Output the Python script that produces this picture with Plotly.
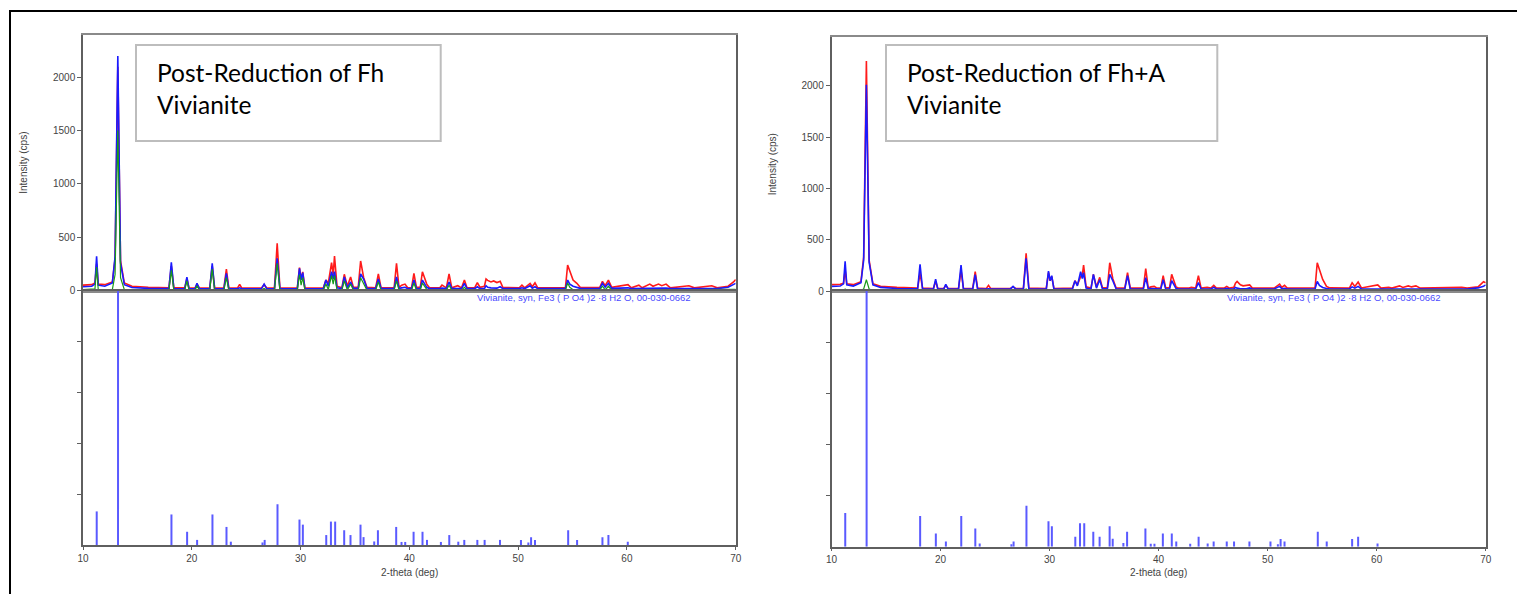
import plotly.graph_objects as go

W, H = 1517, 594

# Shared 2-theta grid (deg) for the measured patterns
two_theta = [
    10.0, 10.8, 11.1, 11.25, 11.4, 12.0, 12.7, 12.95, 13.2, 13.45,
    13.8, 14.5, 16.0, 17.9, 18.12, 18.35, 19.35, 19.55, 19.75, 20.3,
    20.48, 20.7, 21.65, 21.88, 22.1, 22.95, 23.18, 23.4, 24.2, 24.4,
    24.6, 26.4, 26.65, 26.9, 27.6, 27.85, 28.1, 29.7, 29.9, 30.05,
    30.2, 30.4, 32.1, 32.33, 32.55, 32.85, 33.0, 33.12, 33.35, 33.8,
    34.02, 34.3, 34.6, 34.85, 35.3, 35.52, 35.8, 36.1, 36.9, 37.15,
    37.4, 38.6, 38.82, 39.05, 39.3, 39.6, 39.85, 40.2, 40.42, 40.65,
    41.0, 41.2, 41.6, 41.85, 42.8, 43.0, 43.4, 43.65, 43.9, 44.45,
    44.8, 45.06, 45.3, 46.0, 46.25, 46.5, 46.9, 47.05, 47.2, 47.5,
    47.75, 48.05, 48.35, 48.6, 50.1, 50.35, 50.6, 51.1, 51.3, 51.55,
    51.8, 54.35, 54.55, 54.75, 55.05, 55.4, 55.7, 57.5, 57.75, 58.0,
    58.3, 58.6, 60.1, 60.4, 61.1, 61.4, 62.1, 62.4, 62.9, 63.2,
    63.6, 64.0, 65.7, 66.2, 67.8, 68.3, 69.3, 69.8, 70.0,
]

# Post-Reduction of Fh (counts per second)
fh_red = [
    50, 55, 70, 250, 60, 55, 80, 300, 2100, 280,
    70, 40, 30, 25, 230, 25, 25, 110, 22, 22,
    60, 22, 22, 230, 22, 22, 200, 25, 22, 58,
    22, 22, 55, 22, 22, 442, 25, 22, 215, 110,
    175, 22, 25, 98, 70, 261, 150, 323, 40, 25,
    152, 40, 127, 30, 30, 277, 120, 30, 25, 155,
    25, 25, 255, 30, 50, 60, 25, 25, 161, 30,
    30, 176, 60, 25, 25, 50, 25, 155, 25, 45,
    25, 98, 25, 25, 73, 30, 40, 108, 95, 80,
    90, 75, 86, 28, 25, 50, 25, 67, 35, 73,
    25, 28, 239, 176, 98, 67, 30, 28, 86, 45,
    98, 30, 55, 25, 50, 25, 60, 40, 60, 45,
    60, 25, 45, 25, 45, 25, 40, 80, 103,
]
fh_blue = [
    35, 40, 60, 320, 50, 40, 70, 320, 2200, 260,
    55, 28, 20, 18, 265, 18, 16, 125, 16, 16,
    67, 16, 16, 255, 16, 16, 160, 18, 16, 25,
    16, 16, 60, 16, 16, 302, 18, 16, 208, 100,
    167, 16, 18, 98, 40, 176, 110, 176, 25, 18,
    127, 25, 80, 20, 20, 155, 108, 20, 18, 108,
    18, 18, 127, 20, 25, 30, 18, 18, 98, 18,
    18, 98, 30, 18, 18, 22, 18, 80, 18, 22,
    18, 67, 18, 18, 35, 18, 18, 45, 30, 25,
    25, 22, 35, 18, 18, 25, 18, 45, 22, 35,
    18, 18, 98, 60, 40, 30, 20, 18, 67, 30,
    67, 20, 25, 18, 20, 18, 22, 20, 22, 20,
    22, 18, 20, 18, 20, 18, 30, 55, 67,
]
fh_green = [
    8, 8, 15, 220, 10, 6, 10, 150, 1500, 120,
    8, 5, 4, 4, 190, 4, 4, 90, 4, 4,
    45, 4, 4, 200, 4, 4, 120, 4, 4, 5,
    4, 4, 20, 4, 4, 255, 4, 4, 150, 50,
    120, 4, 4, 60, 10, 140, 60, 140, 5, 4,
    90, 5, 60, 4, 4, 120, 60, 4, 4, 80,
    4, 4, 90, 4, 5, 6, 4, 4, 70, 4,
    4, 70, 10, 4, 4, 4, 4, 50, 4, 4,
    4, 30, 4, 4, 8, 4, 4, 10, 6, 4,
    4, 4, 6, 4, 4, 4, 4, 10, 4, 6,
    4, 4, 70, 30, 8, 6, 4, 4, 40, 6,
    40, 4, 4, 4, 4, 4, 4, 4, 4, 4,
    4, 4, 4, 4, 4, 4, 6, 8, 10,
]

# Post-Reduction of Fh+A (counts per second)
fha_red = [
    62, 65, 75, 200, 70, 62, 90, 330, 2240, 300,
    70, 45, 35, 28, 175, 28, 25, 95, 25, 25,
    55, 25, 25, 200, 25, 25, 188, 28, 25, 55,
    25, 25, 40, 25, 25, 366, 28, 25, 180, 100,
    140, 25, 28, 100, 60, 140, 150, 253, 40, 28,
    162, 40, 133, 30, 30, 275, 120, 30, 28, 178,
    28, 28, 217, 30, 40, 45, 28, 28, 149, 30,
    30, 162, 40, 28, 28, 35, 28, 149, 28, 35,
    28, 55, 28, 28, 45, 28, 35, 76, 94, 60,
    50, 55, 60, 28, 28, 35, 28, 67, 35, 55,
    28, 30, 275, 210, 113, 45, 30, 28, 81, 45,
    87, 30, 60, 28, 35, 28, 50, 35, 50, 40,
    50, 28, 30, 28, 35, 28, 40, 90, 80,
]
fha_blue = [
    45, 48, 70, 290, 60, 48, 80, 300, 2010, 280,
    60, 35, 25, 22, 260, 22, 20, 115, 18, 18,
    65, 18, 18, 253, 18, 18, 160, 20, 18, 22,
    18, 18, 45, 18, 18, 318, 20, 18, 194, 100,
    149, 18, 20, 100, 50, 188, 120, 178, 28, 20,
    162, 28, 110, 22, 22, 162, 100, 22, 20, 149,
    20, 20, 130, 22, 24, 25, 20, 20, 110, 20,
    20, 100, 25, 20, 20, 20, 20, 81, 20, 20,
    20, 35, 20, 20, 25, 20, 20, 35, 28, 22,
    22, 22, 30, 20, 20, 22, 20, 45, 22, 25,
    20, 20, 94, 55, 35, 25, 20, 20, 40, 28,
    45, 20, 25, 20, 20, 20, 22, 20, 22, 20,
    22, 20, 20, 20, 20, 20, 30, 45, 60,
]
fha_green = [
    5, 5, 6, 20, 6, 5, 8, 20, 110, 20,
    5, 4, 3, 3, 15, 3, 3, 10, 3, 3,
    12, 3, 3, 15, 3, 3, 10, 3, 3, 3,
    3, 3, 10, 3, 3, 20, 3, 3, 12, 6,
    10, 3, 3, 8, 4, 15, 8, 12, 3, 3,
    10, 3, 8, 3, 3, 12, 8, 3, 3, 10,
    3, 3, 10, 3, 3, 3, 3, 3, 8, 3,
    3, 8, 3, 3, 3, 3, 3, 6, 3, 3,
    3, 4, 3, 3, 3, 3, 3, 4, 3, 3,
    3, 3, 3, 3, 3, 3, 3, 4, 3, 3,
    3, 3, 6, 4, 3, 3, 3, 3, 4, 3,
    4, 3, 3, 3, 3, 3, 3, 3, 3, 3,
    3, 3, 3, 3, 3, 3, 4, 5, 5,
]

for series in (fh_red, fh_blue, fh_green, fha_red, fha_blue, fha_green):
    assert len(series) == len(two_theta)

# Reference card 00-030-0662 (Vivianite): line positions and relative intensities (%)
card_theta = [
    11.26, 13.22, 18.13, 19.57, 20.49, 21.90, 23.19, 23.59, 26.50, 26.70,
    27.88, 29.90, 30.21, 32.36, 32.79, 33.18, 34.01, 34.59, 35.51, 35.79,
    36.77, 37.11, 38.79, 39.28, 39.62, 40.39, 41.21, 41.62, 42.90, 43.67,
    44.50, 45.05, 46.25, 46.92, 48.33, 50.26, 50.94, 51.19, 51.55, 54.60,
    55.42, 57.75, 58.30, 60.08,
]
card_rel = [
    13.2, 100, 12.0, 5.2, 2.0, 12.0, 7.1, 1.3, 1.0, 2.0,
    16.0, 10.0, 8.0, 3.9, 9.2, 9.2, 5.8, 3.9, 8.0, 3.1,
    1.4, 5.8, 7.1, 1.2, 1.2, 5.2, 5.2, 2.0, 1.2, 3.9,
    1.3, 2.0, 2.0, 2.0, 2.0, 2.0, 1.0, 3.0, 2.0, 5.8,
    2.0, 3.0, 3.9, 1.3,
]
card_label = "Vivianite, syn, Fe3 ( P O4 )2 ·8 H2 O, 00-030-0662"

intensity_ticks = [0, 500, 1000, 1500, 2000]
theta_ticks = [10, 20, 30, 40, 50, 60, 70]

# Panel geometry in pixels: left, right, top, separator, bottom, top of count scale
panels = [
    dict(title="Post-Reduction of Fh<br>Vivianite", red=fh_red, blue=fh_blue, green=fh_green,
         x0=83, x1=735.7, top=35, sep=290.5, bottom=545, ymax=2397,
         box=(136, 45, 440.7, 141), text_x=155, label_right=693),
    dict(title="Post-Reduction of Fh+A<br>Vivianite", red=fha_red, blue=fha_blue, green=fha_green,
         x0=831.5, x1=1485.7, top=36.7, sep=291, bottom=546.7, ymax=2477,
         box=(886, 45, 1217.3, 141), text_x=905, label_right=1443),
]


def px(x):
    return x / W


def py(y):
    return 1 - y / H


TICK_FONT = dict(family="Liberation Sans, Arial, sans-serif", size=10, color="#444444")
FRAME = "#5f5f5f"

fig = go.Figure()
layout_axes = {}
annotations = []
shapes = []

stick_x, stick_y = [], []
for t, r in zip(card_theta, card_rel):
    stick_x += [t, t, None]
    stick_y += [0, r, None]

for i, p in enumerate(panels):
    n_top = 2 * i + 1
    n_bot = 2 * i + 2
    xt, yt = f"x{n_top if n_top > 1 else ''}", f"y{n_top if n_top > 1 else ''}"
    xb, yb = f"x{n_bot}", f"y{n_bot}"
    xdom = [px(p["x0"]), px(p["x1"])]

    # measured patterns
    for key, color, width in (("red", "#ff1a1a", 1.6), ("blue", "#1a1aff", 1.6), ("green", "#1a9a1a", 1.2)):
        fig.add_trace(go.Scatter(x=two_theta, y=p[key], mode="lines",
                                 line=dict(color=color, width=width),
                                 xaxis=xt, yaxis=yt, showlegend=False, hoverinfo="skip"))
    # reference card sticks
    fig.add_trace(go.Scatter(x=stick_x, y=stick_y, mode="lines",
                             line=dict(color="#5a5aff", width=2),
                             xaxis=xb, yaxis=yb, showlegend=False, hoverinfo="skip"))

    kt = "" if n_top == 1 else str(n_top)
    layout_axes[f"xaxis{kt}"] = dict(
        domain=xdom, range=[10, 70], anchor=yt, showticklabels=False, ticks="",
        showline=True, linecolor="#8a8a8a", linewidth=1.5, mirror=True,
        showgrid=False, zeroline=False, matches=xb, automargin=False)
    layout_axes[f"yaxis{kt}"] = dict(
        domain=[py(p["sep"]), py(p["top"])], range=[0, p["ymax"]], anchor=xt,
        tickvals=intensity_ticks, ticks="outside", ticklen=4, tickcolor=FRAME,
        tickfont=TICK_FONT, showline=True, linecolor=FRAME, linewidth=1.5, mirror=True,
        showgrid=False, zeroline=False, automargin=False)
    layout_axes[f"xaxis{n_bot}"] = dict(
        domain=xdom, range=[10, 70], anchor=yb, tickvals=theta_ticks,
        ticks="outside", ticklen=3, tickcolor=FRAME, tickfont=TICK_FONT,
        showline=True, linecolor=FRAME, linewidth=1.5, mirror=True,
        showgrid=False, zeroline=False, automargin=False)
    layout_axes[f"yaxis{n_bot}"] = dict(
        domain=[py(p["bottom"]), py(p["sep"])], range=[0, 100], anchor=xb,
        tickvals=[20, 40, 60, 80], showticklabels=False, ticks="outside", ticklen=4,
        tickcolor=FRAME, showline=True, linecolor=FRAME, linewidth=1.5, mirror=True,
        showgrid=False, zeroline=False, automargin=False)

    # axis titles
    annotations.append(dict(text="Intensity (cps)", textangle=-90, showarrow=False,
                            xref="paper", yref="paper", x=px(p["x0"] - 59), y=py((p["top"] + p["sep"]) / 2),
                            xanchor="center", yanchor="middle", font=TICK_FONT))
    annotations.append(dict(text="2-theta (deg)", showarrow=False,
                            xref="paper", yref="paper", x=px((p["x0"] + p["x1"]) / 2), y=py(572.5),
                            xanchor="center", yanchor="middle", font=TICK_FONT))
    # reference card caption
    annotations.append(dict(text=card_label, showarrow=False, xref="paper", yref="paper",
                            x=px(p["label_right"]), y=py(297), xanchor="right", yanchor="middle",
                            font=dict(family="Liberation Sans, Arial, sans-serif", size=9.5, color="#4a4aff")))
    # sample title box
    bx0, by0, bx1, by1 = p["box"]
    shapes.append(dict(type="rect", xref="paper", yref="paper",
                       x0=px(bx0), x1=px(bx1), y0=py(by1), y1=py(by0),
                       line=dict(color="#bdbdbd", width=2), fillcolor="white", layer="above"))
    annotations.append(dict(text=p["title"], showarrow=False, xref="paper", yref="paper",
                            x=px(p["text_x"]), y=py(56), xanchor="left", yanchor="top", align="left",
                            font=dict(family="Lato, Open Sans, sans-serif", size=24.5, color="#000000")))

# outer frame lines (top and left edges of the figure panel)
shapes.append(dict(type="line", xref="paper", yref="paper", x0=px(9), x1=1, y0=py(11), y1=py(11),
                   line=dict(color="black", width=2)))
shapes.append(dict(type="line", xref="paper", yref="paper", x0=px(10), x1=px(10), y0=0, y1=py(10),
                   line=dict(color="black", width=2)))

fig.update_layout(
    width=W, height=H, margin=dict(l=0, r=0, t=0, b=0, pad=0, autoexpand=False),
    paper_bgcolor="white", plot_bgcolor="white",
    showlegend=False, annotations=annotations, shapes=shapes,
    **layout_axes,
)

fig.write_html("out.html")
